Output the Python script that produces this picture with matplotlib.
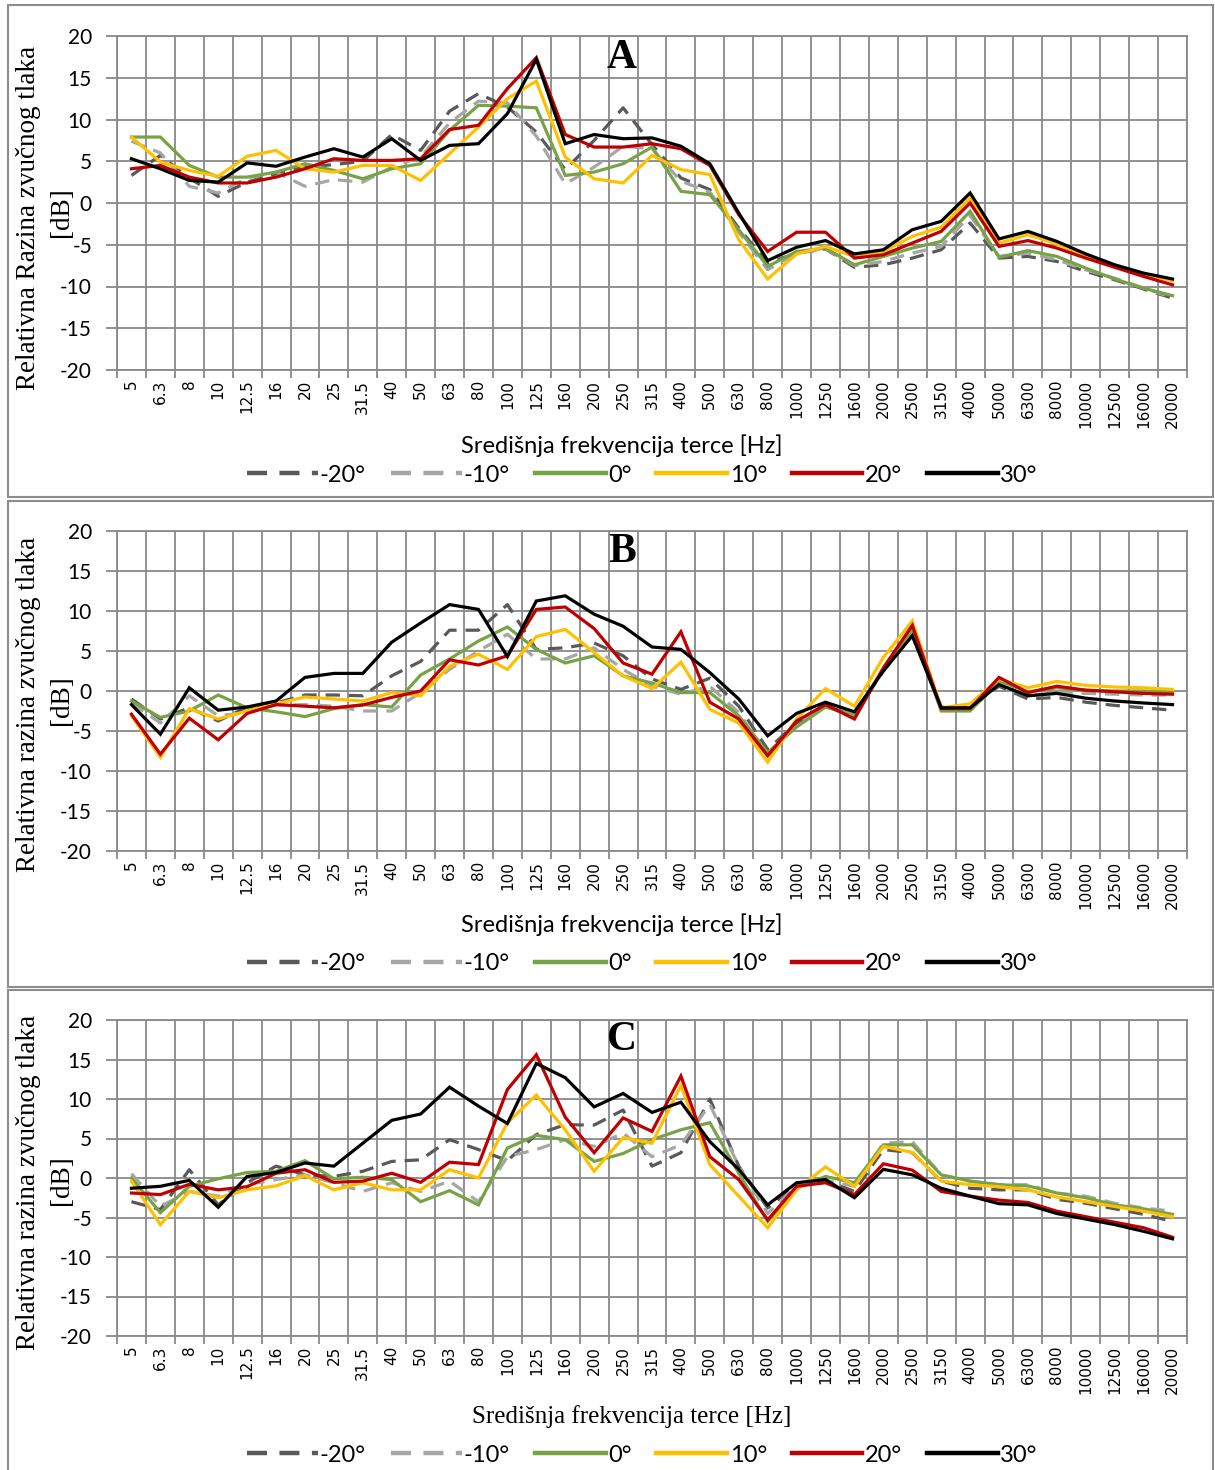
import matplotlib
matplotlib.use("Agg")
import matplotlib.pyplot as plt
import numpy as np
from matplotlib.patches import Rectangle

plt.rcParams["axes.unicode_minus"] = False

freqs = ["5", "6.3", "8", "10", "12.5", "16", "20", "25", "31.5", "40", "50", "63", "80",
         "100", "125", "160", "200", "250", "315", "400", "500", "630", "800", "1000",
         "1250", "1600", "2000", "2500", "3150", "4000", "5000", "6300", "8000", "10000",
         "12500", "16000", "20000"]
series_names = ["-20°", "-10°", "0°", "10°", "20°", "30°"]

# Panel A
a_m20 = [3.3, 5.7, 3.0, 0.8, 2.5, 3.5, 4.3, 4.6, 5.0, 8.2, 6.3, 11.0, 13.1, 11.5, 8.5, 4.0, 7.5, 11.4, 7.0, 3.0, 1.6, -3.0, -7.2, -6.0, -5.5, -7.7, -7.4, -6.6, -5.6, -2.4, -6.6, -6.4, -7.0, -8.2, -9.2, -10.3, -11.4]
a_m10 = [7.4, 6.0, 2.0, 1.2, 3.0, 3.7, 2.0, 2.8, 2.5, 4.3, 5.5, 9.6, 12.2, 12.0, 8.0, 2.3, 4.3, 6.8, 6.5, 2.6, 1.3, -3.5, -8.0, -6.0, -5.5, -7.5, -7.0, -6.0, -5.2, -1.5, -6.4, -6.0, -6.8, -8.0, -9.0, -10.2, -11.3]
a_0 = [7.9, 7.9, 4.5, 3.1, 3.1, 3.7, 4.7, 3.9, 2.9, 4.1, 4.7, 8.7, 11.7, 11.6, 11.4, 3.3, 3.7, 4.7, 6.7, 1.4, 1.0, -3.2, -7.6, -5.8, -5.4, -7.4, -6.4, -5.4, -4.6, -1.0, -6.5, -5.7, -6.4, -7.8, -9.1, -10.2, -11.1]
a_10 = [7.9, 4.9, 3.9, 3.2, 5.6, 6.3, 4.1, 3.7, 4.5, 4.5, 2.7, 5.9, 9.1, 12.5, 14.6, 5.5, 2.9, 2.4, 5.7, 4.0, 3.4, -4.4, -9.1, -6.1, -5.2, -6.4, -5.8, -4.0, -2.9, 0.6, -4.8, -3.8, -4.9, -6.3, -7.6, -8.6, -9.3]
a_20 = [4.1, 4.5, 3.1, 2.4, 2.4, 3.1, 4.1, 5.3, 5.1, 5.1, 5.3, 8.8, 9.3, 13.7, 17.4, 8.2, 6.7, 6.7, 7.1, 6.5, 4.5, -1.4, -5.8, -3.5, -3.5, -6.6, -6.2, -4.8, -3.4, 0.0, -5.2, -4.5, -5.4, -6.6, -7.7, -8.8, -9.8]
a_30 = [5.3, 4.1, 2.7, 2.5, 4.8, 4.4, 5.5, 6.5, 5.5, 7.7, 5.1, 6.9, 7.1, 10.7, 17.2, 7.1, 8.2, 7.7, 7.8, 6.8, 4.7, -1.2, -6.9, -5.3, -4.5, -6.1, -5.6, -3.2, -2.2, 1.2, -4.3, -3.4, -4.6, -6.1, -7.4, -8.4, -9.1]

# Panel B
b_m20 = [-1.0, -3.5, -2.1, -3.75, -2.0, -1.5, -0.5, -0.5, -0.6, 1.9, 3.7, 7.6, 7.6, 10.8, 5.2, 5.4, 6.0, 4.4, 1.5, 0.2, 1.6, -1.9, -7.3, -4.0, -1.9, -3.0, 2.5, 7.0, -2.0, -2.0, 0.6, -1.0, -0.8, -1.4, -1.8, -2.1, -2.4]
b_m10 = [-1.5, -4.0, -0.6, -3.1, -2.7, -1.75, -1.7, -1.9, -2.5, -2.5, -0.2, 2.7, 5.0, 7.1, 4.0, 4.0, 5.4, 2.7, 0.6, -0.4, 0.6, -2.7, -8.1, -4.0, -1.7, -3.0, 2.8, 7.5, -2.3, -2.3, 0.8, -0.6, -0.2, -0.3, -0.4, -0.5, -0.5]
b_0 = [-1.25, -3.3, -2.5, -0.5, -2.1, -2.6, -3.2, -2.2, -1.7, -2.0, 2.0, 4.0, 6.25, 8.0, 5.2, 3.5, 4.4, 1.9, 1.0, -0.2, -0.2, -3.1, -7.7, -4.5, -2.0, -3.1, 2.7, 7.7, -2.5, -2.5, 1.25, -0.1, 0.4, 0.1, 0.0, 0.0, -0.1]
b_10 = [-3.1, -8.3, -2.2, -3.5, -2.5, -1.6, -0.75, -1.0, -1.25, -0.2, -0.6, 3.1, 4.6, 2.7, 6.8, 7.7, 4.8, 1.9, 0.3, 3.6, -2.3, -4.0, -8.9, -3.5, 0.3, -1.9, 4.2, 8.75, -2.1, -1.6, 1.5, 0.4, 1.2, 0.7, 0.5, 0.4, 0.2]
b_20 = [-2.9, -7.9, -3.4, -6.1, -2.8, -1.7, -1.9, -2.1, -1.75, -0.8, 0.0, 3.9, 3.25, 4.4, 10.2, 10.5, 7.8, 3.5, 2.1, 7.4, -1.4, -3.5, -8.1, -3.75, -1.7, -3.5, 2.9, 8.2, -2.2, -2.2, 1.7, -0.2, 0.6, 0.1, -0.1, -0.3, -0.4]
b_30 = [-1.7, -5.4, 0.4, -2.4, -2.0, -1.25, 1.7, 2.2, 2.2, 6.1, 8.5, 10.8, 10.2, 4.3, 11.25, 11.9, 9.6, 8.1, 5.5, 5.2, 2.3, -1.0, -5.6, -2.8, -1.4, -2.6, 2.5, 6.9, -2.1, -2.1, 0.8, -0.6, -0.3, -0.9, -1.25, -1.5, -1.7]

# Panel C
c_m20 = [-3.0, -4.0, 1.05, -3.4, -0.6, 1.5, 0.4, 0.2, 0.85, 2.1, 2.3, 4.85, 3.6, 2.2, 5.5, 6.75, 6.7, 8.6, 1.5, 3.2, 10.0, 1.5, -3.8, -0.8, -0.3, -1.7, 3.6, 3.2, -0.4, -1.3, -1.5, -1.5, -2.7, -3.2, -3.9, -4.6, -5.5]
c_m10 = [0.55, -3.6, -1.7, -2.3, -0.85, -0.2, 0.4, -0.6, -1.7, -0.6, -1.7, -0.4, -3.0, 2.7, 3.6, 4.85, 4.0, 5.7, 2.7, 4.2, 9.3, 1.5, -4.5, -1.0, -0.3, -1.05, 4.4, 4.6, 0.4, -0.4, -0.85, -0.85, -1.9, -2.3, -3.2, -3.8, -4.2]
c_0 = [0.0, -4.4, -1.05, -0.1, 0.7, 0.85, 2.2, -0.1, 0.1, -0.2, -3.0, -1.6, -3.4, 3.8, 5.4, 4.85, 2.1, 3.1, 4.85, 6.1, 7.0, 0.6, -5.5, -1.3, 0.2, -0.6, 4.2, 4.2, 0.4, -0.4, -0.85, -1.0, -1.9, -2.5, -3.4, -3.9, -4.6]
c_10 = [-0.4, -5.9, -1.7, -2.5, -1.5, -1.0, 0.3, -1.5, -0.6, -1.5, -1.5, 1.05, 0.0, 7.0, 10.5, 6.1, 0.85, 5.1, 4.4, 11.7, 1.7, -2.3, -6.3, -1.5, 1.4, -1.05, 4.0, 3.25, -0.4, -0.85, -1.1, -1.5, -2.4, -3.0, -3.6, -4.2, -4.9]
c_20 = [-1.9, -2.1, -0.8, -1.5, -1.1, 0.6, 1.05, -0.55, -0.4, 0.6, -0.55, 2.0, 1.7, 11.2, 15.6, 7.7, 3.2, 7.6, 5.9, 12.9, 2.7, -0.2, -5.3, -1.05, -0.6, -2.1, 1.8, 1.0, -1.7, -2.3, -2.8, -3.1, -4.2, -4.9, -5.6, -6.3, -7.5]
c_30 = [-1.3, -1.05, -0.3, -3.7, 0.2, 0.7, 1.9, 1.5, 4.4, 7.3, 8.1, 11.5, 9.1, 6.9, 14.5, 12.7, 9.0, 10.7, 8.3, 9.6, 4.6, 1.1, -3.4, -0.6, -0.2, -2.5, 1.1, 0.4, -1.3, -2.3, -3.25, -3.4, -4.5, -5.2, -5.9, -6.75, -7.7]

colors = ["#595959", "#A6A6A6", "#77A346", "#FFC000", "#C00000", "#000000"]
styles = [(0, (4.5, 2.8)), (0, (4.5, 2.8)), "-", "-", "-", "-"]

W, H = 1215, 1470
fig = plt.figure(figsize=(W / 100, H / 100), dpi=100)
fig.patch.set_facecolor("white")

SANS = ["Liberation Sans Narrow", "Lato", "DejaVu Sans"]
SERIF = ["Liberation Serif", "DejaVu Serif"]

def fx(px):
    return px / W

def fy(py):
    return 1 - py / H

panels = [
    dict(data=[a_m20, a_m10, a_0, a_10, a_20, a_30], top=36, bot=370, letter="A", let_y=58,
         ylabel="Relativna Razina zvučnog tlaka", ylab_c=218, db_c=212, xlab_y=446,
         xlab_serif=False, leg_y=475, box=(8, 5, 1213, 497)),
    dict(data=[b_m20, b_m10, b_0, b_10, b_20, b_30], top=531, bot=851, letter="B", let_y=552,
         ylabel="Relativna razina zvučnog tlaka", ylab_c=704, db_c=700, xlab_y=925,
         xlab_serif=False, leg_y=964, box=(8, 501, 1213, 987)),
    dict(data=[c_m20, c_m10, c_0, c_10, c_20, c_30], top=1020, bot=1336, letter="C", let_y=1040,
         ylabel="Relativna razina zvučnog tlaka", ylab_c=1182, db_c=1180, xlab_y=1417,
         xlab_serif=True, leg_y=1455, box=(8, 990, 1213, 1475)),
]

left, right = 117, 1187
x = np.arange(len(freqs))
grid_col = "#898989"

for p in panels:
    x0, y0, x1, y1 = p["box"]
    fig.patches.append(Rectangle((fx(x0), fy(y1)), fx(x1 - x0), (y1 - y0) / H,
                                 transform=fig.transFigure, fill=False,
                                 edgecolor="#8c8c8c", linewidth=1.5, zorder=0))
    ax = fig.add_axes([fx(left), fy(p["bot"]), fx(right - left), (p["bot"] - p["top"]) / H])
    lines = []
    for vals, c, ls, nm in zip(p["data"], colors, styles, series_names):
        ln, = ax.plot(x, vals, color=c, linestyle=ls, linewidth=2.3, label=nm,
                      solid_joinstyle="miter", zorder=3)
        lines.append(ln)
    ax.set_xlim(-0.5, len(freqs) - 0.5)
    ax.set_ylim(-20, 20)
    ax.set_yticks(np.arange(-20, 21, 5))
    ax.set_xticks(x)
    ax.set_xticks(np.arange(-0.5, len(freqs), 1.0), minor=True)
    ax.set_xticklabels(freqs, rotation=90, fontsize=11, family="DejaVu Sans")
    for lab in ax.get_yticklabels():
        lab.set_fontfamily(["Lato", "DejaVu Sans"])
        lab.set_fontsize(15)
    ax.tick_params(axis="x", which="major", length=0, pad=7)
    ax.tick_params(axis="x", which="minor", length=6, color=grid_col, width=1.3)
    ax.tick_params(axis="y", which="major", length=8, color=grid_col, width=1.3, pad=10)
    ax.grid(True, axis="y", which="major", color=grid_col, linewidth=1.3, zorder=0)
    ax.grid(True, axis="x", which="minor", color=grid_col, linewidth=1.3, zorder=0)
    ax.set_axisbelow(True)
    for s in ax.spines.values():
        s.set_color(grid_col)
        s.set_linewidth(1.3)

    # panel letter
    fig.text(fx(622), fy(p["let_y"]), p["letter"], ha="center", va="center",
             fontsize=30, fontweight="bold", family=SERIF)
    # y label (two lines)
    fig.text(fx(29), fy(p["ylab_c"]), p["ylabel"], rotation=90, ha="center", va="center",
             fontsize=19.5, family=SERIF)
    fig.text(fx(62), fy(p["db_c"]), "[dB]", rotation=90, ha="center", va="center",
             fontsize=19.5, family=SERIF)
    # x label
    if p["xlab_serif"]:
        fig.text(fx(632), fy(p["xlab_y"]), "Središnja frekvencija terce [Hz]",
                 ha="center", va="center", fontsize=18, family=SERIF)
    else:
        fig.text(fx(622), fy(p["xlab_y"]), "Središnja frekvencija terce [Hz]",
                 ha="center", va="center", fontsize=17, family=SANS)
    leg = ax.legend(handles=lines, loc="center", bbox_to_anchor=(fx(642), fy(p["leg_y"])),
                    bbox_transform=fig.transFigure, ncol=6, frameon=False,
                    prop={"family": SANS, "size": 17}, handlelength=3.0,
                    handletextpad=0.1, columnspacing=1.05, borderaxespad=0)
    for h in leg.get_lines():
        h.set_linewidth(3.2)

fig.savefig("out.png", dpi=100, facecolor="white")
